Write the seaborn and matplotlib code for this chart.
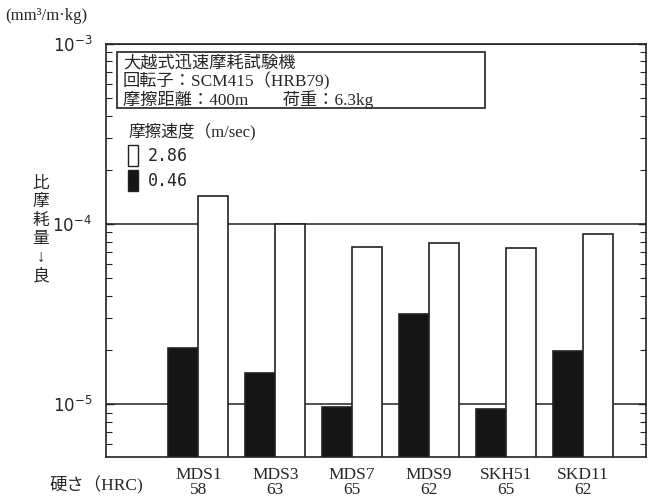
import matplotlib
matplotlib.use("Agg")
import matplotlib.pyplot as plt
import seaborn as sns
import pandas as pd
from matplotlib.patches import Patch, Rectangle
from matplotlib.ticker import LogLocator, NullFormatter, FixedLocator

steels = ["MDS1", "MDS3", "MDS7", "MDS9", "SKH51", "SKD11"]
hardness = ["58", "63", "65", "62", "65", "62"]
speeds = ["0.46", "2.86"]
wear_046 = [2.06e-5, 1.50e-5, 9.7e-6, 3.16e-5, 9.4e-6, 1.97e-5]
wear_286 = [1.44e-4, 1.0e-4, 7.48e-5, 7.81e-5, 7.33e-5, 8.77e-5]

sns.set_theme(style="white")
plt.rcParams['font.family'] = ['Liberation Serif', 'Noto Sans CJK JP']
plt.rcParams['axes.unicode_minus'] = False

df = pd.DataFrame({
    "steel": steels * 2,
    "speed": [speeds[0]] * 6 + [speeds[1]] * 6,
    "wear": wear_046 + wear_286,
})

fig = plt.figure(figsize=(6.55, 5.0), dpi=100)
ax = fig.add_axes([0.1618, 0.086, 0.8245, 0.826])

sns.barplot(data=df, x="steel", y="wear", hue="speed", hue_order=speeds,
            palette={"0.46": "#151515", "2.86": "white"}, edgecolor="#222222",
            linewidth=1.2, width=0.78, ax=ax, legend=False)
ax.set_yscale("log")
ax.set_ylim(5.1e-6, 1e-3)
ax.set_xlim(-1.2, 5.82)

ax.yaxis.set_major_locator(FixedLocator([1e-5, 1e-4, 1e-3]))
ax.set_yticklabels([r"$10^{-5}$", r"$10^{-4}$", r"$10^{-3}$"], fontsize=12,
                   family='DejaVu Serif')
ax.yaxis.set_minor_locator(LogLocator(base=10, subs=range(2, 10)))
ax.yaxis.set_minor_formatter(NullFormatter())
ax.tick_params(axis='y', which='both', direction='in', left=True, right=True,
               color='#222222')
ax.tick_params(axis='y', which='major', length=6, width=1, pad=10)
ax.tick_params(axis='y', which='minor', length=4, width=0.8)
ax.tick_params(axis='x', bottom=False, pad=1)
ax.set_xticks(range(len(steels)))
ax.set_xticklabels([f"{s}\n{h}" for s, h in zip(steels, hardness)], fontsize=12.5,
                   linespacing=0.95)
ax.grid(axis='y', which='major', color='#222222', linewidth=1.1)
ax.set_axisbelow(True)
for sp in ax.spines.values():
    sp.set_color('#222222')
    sp.set_linewidth(1.2)
ax.set_xlabel("")
ax.set_ylabel("")

ax.add_patch(Rectangle((0.020, 0.845), 0.682, 0.136, transform=ax.transAxes,
                       facecolor='white', edgecolor='#222222', linewidth=1.2,
                       zorder=3))
ax.text(0.031, 0.972,
        "大越式迅速摩耗試験機\n回転子：SCM415（HRB79)\n摩擦距離：400m　　荷重：6.3kg",
        transform=ax.transAxes, ha='left', va='top', fontsize=12.4,
        linespacing=1.0, zorder=4)

handles = [Patch(facecolor='white', edgecolor='#222222', label='2.86'),
           Patch(facecolor='#151515', edgecolor='#222222', label='0.46')]
leg = ax.legend(handles=handles, title="摩擦速度（m/sec)", loc='upper left',
                bbox_to_anchor=(0.013, 0.845), frameon=False, fontsize=12,
                title_fontsize=12, handlelength=0.6, handleheight=1.55,
                handletextpad=0.6, labelspacing=0.25, alignment='left')
for t in leg.get_texts():
    t.set_family('DejaVu Sans Mono')

fig.text(0.008, 0.968, "(mm³/m·kg)", fontsize=12, ha='left', va='center')
fig.text(0.062, 0.54, "比\n摩\n耗\n量\n↓\n良", fontsize=12, ha='center',
         va='center', linespacing=1.2)
fig.text(0.075, 0.03, "硬さ（HRC)", fontsize=12.5, ha='left', va='center')

fig.savefig("out.png", dpi=100)
